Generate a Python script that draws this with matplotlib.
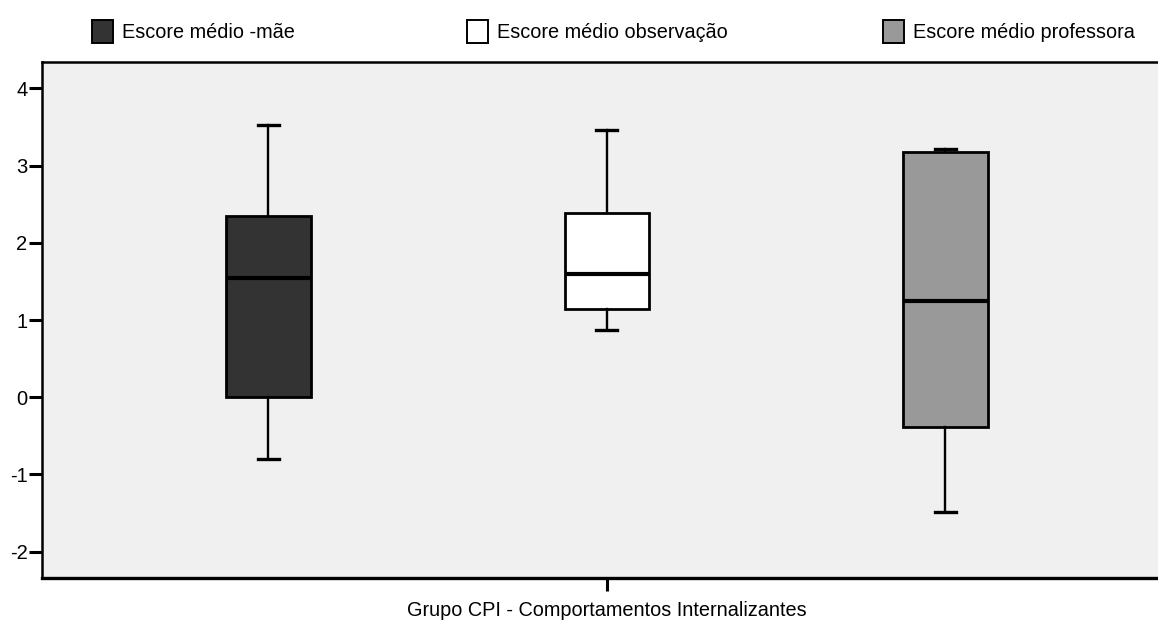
import matplotlib
matplotlib.use('Agg')
import matplotlib.pyplot as plt
from matplotlib.patches import Rectangle

plt.rcParams['font.family'] = ['Liberation Sans', 'DejaVu Sans']

# valores
series = ['Escore médio -mãe', 'Escore médio observação', 'Escore médio professora']
cores = ['#333333', '#ffffff', '#999999']
whislo = [-0.80, 0.87, -1.48]
q1 = [0.00, 1.14, -0.39]
med = [1.55, 1.60, 1.24]
q3 = [2.34, 2.39, 3.17]
whishi = [3.52, 3.46, 3.22]
posicoes = [-1, 0, 1]
yticks = [-2, -1, 0, 1, 2, 3, 4]
xlabel = 'Grupo CPI - Comportamentos Internalizantes'

stats = []
for i in range(3):
    stats.append({'whislo': whislo[i], 'q1': q1[i], 'med': med[i],
                  'q3': q3[i], 'whishi': whishi[i], 'fliers': [], 'label': series[i]})

fig = plt.figure(figsize=(11.58, 6.23), dpi=100)
ax = fig.add_axes([42/1158, 45/623, 1 - 42/1158, (578-62)/623])
ax.set_facecolor('#f0f0f0')

bp = ax.bxp(stats, positions=posicoes, widths=0.25, patch_artist=True,
            showfliers=False,
            boxprops=dict(edgecolor='black', linewidth=2.0),
            medianprops=dict(color='black', linewidth=3.0),
            whiskerprops=dict(color='black', linewidth=1.7),
            capprops=dict(color='black', linewidth=2.4),
            capwidths=0.062)
for patch, c in zip(bp['boxes'], cores):
    patch.set_facecolor(c)

ax.set_xlim(-1.669, 1.628)
ax.set_ylim(-2.34, 4.34)
ax.set_yticks(yticks)
ax.set_yticklabels([str(t) for t in yticks])
ax.set_xticks([0])
ax.set_xticklabels([''])
ax.tick_params(axis='both', length=9.5, width=2.2, labelsize=14.5, pad=1, color='black')
ax.set_xlabel(xlabel, fontsize=14.3, labelpad=0)
ax.xaxis.set_label_coords((607-42)/(1158-42), -0.045)

ax.spines['right'].set_visible(False)
ax.spines['left'].set_linewidth(1.8)
ax.spines['top'].set_linewidth(1.8)
ax.spines['bottom'].set_linewidth(2.4)

# legenda manual no topo
leg_x = [92, 467, 883]
for x, c, s in zip(leg_x, cores, series):
    fig.patches.append(Rectangle((x/1158, 1 - 43/623), 21/1158, 23/623,
                                 transform=fig.transFigure, facecolor=c,
                                 edgecolor='black', linewidth=1.4))
    fig.text((x + 30)/1158, 1 - 32/623, s, fontsize=14.3, va='center', ha='left')

fig.savefig('out.png', dpi=100)
